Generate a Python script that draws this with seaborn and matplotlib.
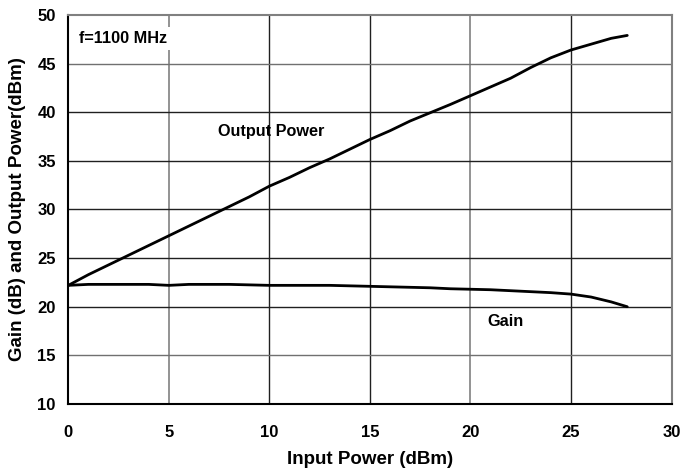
import matplotlib
matplotlib.use("Agg")
import matplotlib.pyplot as plt
import seaborn as sns
import pandas as pd

input_power = [0, 1, 2, 3, 4, 5, 6, 7, 8, 9, 10, 11, 12, 13, 14, 15, 16, 17, 18, 19,
               20, 21, 22, 23, 24, 25, 26, 27, 27.8]
output_power = [22.2, 23.3, 24.3, 25.3, 26.3, 27.3, 28.3, 29.3, 30.3, 31.3, 32.4, 33.3,
                34.3, 35.2, 36.2, 37.2, 38.1, 39.1, 39.95, 40.8, 41.7, 42.6, 43.5, 44.6,
                45.6, 46.4, 47.0, 47.6, 47.9]
gain = [22.2, 22.3, 22.3, 22.3, 22.3, 22.2, 22.3, 22.3, 22.3, 22.25, 22.2, 22.2, 22.2,
        22.2, 22.15, 22.1, 22.05, 22.0, 21.95, 21.85, 21.8, 21.75, 21.65, 21.55, 21.45,
        21.3, 21.0, 20.5, 20.0]
x_ticks = [0, 5, 10, 15, 20, 25, 30]
y_ticks = [10, 15, 20, 25, 30, 35, 40, 45, 50]

sns.set_style("white")
plt.rcParams['font.family'] = ['Liberation Sans', 'DejaVu Sans']
plt.rcParams['font.weight'] = 'bold'
plt.rcParams['text.color'] = 'black'
plt.rcParams['axes.labelcolor'] = 'black'
plt.rcParams['xtick.color'] = 'black'
plt.rcParams['ytick.color'] = 'black'

df = pd.DataFrame({"x": input_power, "out": output_power, "gain": gain})

fig = plt.figure(figsize=(6.81, 4.75), dpi=100)
ax = fig.add_axes([68.3 / 681, 1 - 404 / 475, (671.5 - 68.3) / 681, (404 - 15) / 475])

sns.lineplot(data=df, x="x", y="out", ax=ax, color="black", linewidth=2.0)
sns.lineplot(data=df, x="x", y="gain", ax=ax, color="black", linewidth=2.0)

ax.set_xlim(0, 30)
ax.set_ylim(10, 50)
ax.set_xticks(x_ticks)
ax.set_yticks(y_ticks)
ax.tick_params(axis='both', length=0, labelsize=12, labelcolor='black')
ax.tick_params(axis='x', pad=15)
ax.tick_params(axis='y', pad=9)
for lab in ax.get_xticklabels() + ax.get_yticklabels():
    lab.set_fontweight('bold')

# grid lines
for xv in x_ticks[1:-1]:
    ax.axvline(xv, color="#808080" if xv in (5, 20) else "#202020", lw=1.2 if xv in (5, 20) else 1.0, zorder=0)
for yv in y_ticks[1:-1]:
    ax.axhline(yv, color="#707070" if yv in (15, 45) else "#202020", lw=1.0, zorder=0)

for side in ['left', 'bottom']:
    ax.spines[side].set_color('black')
    ax.spines[side].set_linewidth(1.5)
for side in ['top', 'right']:
    ax.spines[side].set_color('#808080')
    ax.spines[side].set_linewidth(1.5)

ax.set_xlabel("Input Power (dBm)", fontsize=13.5, fontweight='bold', labelpad=8, color='black')
ax.set_ylabel("Gain (dB) and Output Power(dBm)", fontsize=13.5, fontweight='bold', labelpad=8, color='black')

ax.text(0.53, 47.6, "f=1100 MHz", fontsize=11.7, fontweight='bold', ha='left', va='center',
        color='black', bbox=dict(facecolor='white', edgecolor='none', pad=3), zorder=3)
ax.text(10.1, 38.07, "Output Power", fontsize=11.7, fontweight='bold', ha='center', va='center', color='black')
ax.text(21.75, 18.45, "Gain", fontsize=11.7, fontweight='bold', ha='center', va='center', color='black')

fig.savefig("out.png", dpi=100)
